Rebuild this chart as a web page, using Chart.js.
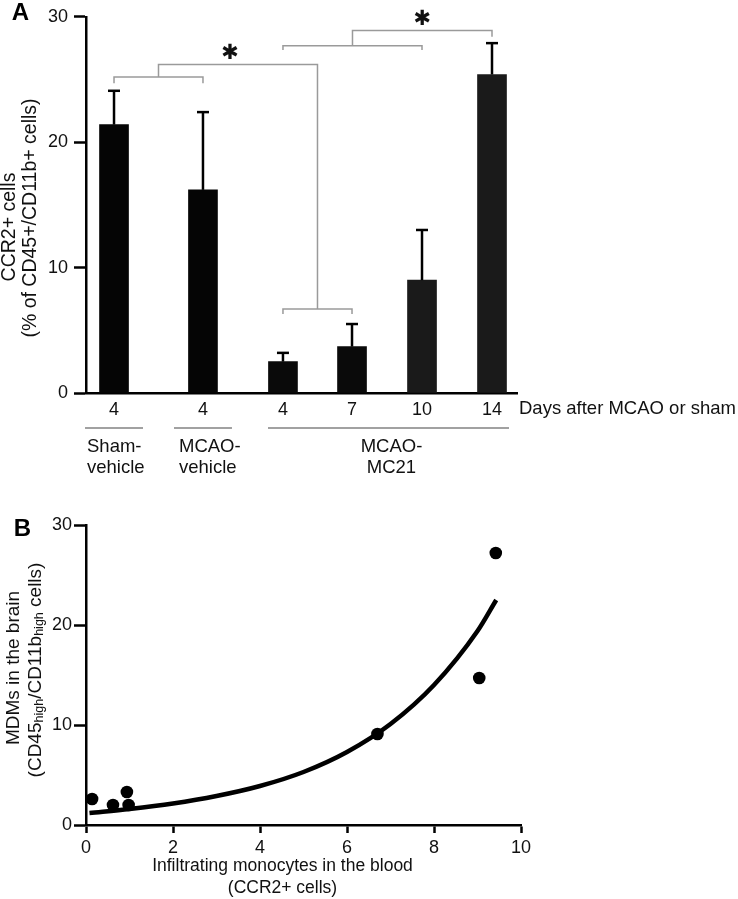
<!DOCTYPE html>
<html>
<head>
<meta charset="utf-8">
<script src="https://cdn.jsdelivr.net/npm/chart.js@4.4.0/dist/chart.umd.min.js"></script>
<style>
  html, body { margin: 0; padding: 0; background: #fff; }
  #wrap { position: relative; width: 738px; height: 899px; }
  canvas { position: absolute; left: 0; }
  #chartA { top: 0; }
  #chartB { top: 500px; }
</style>
</head>
<body>
<div id="wrap">
  <canvas id="chartA" width="738" height="500"></canvas>
  <canvas id="chartB" width="738" height="399"></canvas>
</div>
<script>
// Panel A: CCR2+ cells per group / day
const days = ['4', '4', '4', '7', '10', '14']
const ccr2Mean = [21.4, 16.2, 2.5, 3.7, 9.0, 25.4]
const ccr2Sem = [2.7, 6.2, 0.7, 1.8, 4.0, 2.5]
const yTicksA = [0, 10, 20, 30]

// Panel B: blood monocytes vs brain MDMs
const bloodCCR2 = [0.14, 0.62, 0.94, 0.98, 6.7, 9.04, 9.42]
const brainMDM = [2.6, 2.0, 3.3, 2.0, 9.1, 14.7, 27.2]
// fitted curve
const fitX = [0.08, 1, 2, 3, 4, 5, 6, 7, 8, 9, 9.43]
const fitY = [1.2, 1.6, 2.15, 2.9, 3.9, 5.3, 7.3, 10.1, 14.0, 19.4, 22.5]
const xTicksB = [0, 2, 4, 6, 8, 10]
const yTicksB = [0, 10, 20, 30]

// layout only: where each bar sits along panel A's x axis
const barSlot = [0.325, 1.357, 2.285, 3.086, 3.898, 4.71]
const barColors = ['#050505', '#050505', '#0a0a0a', '#0a0a0a', '#1a1a1a', '#1a1a1a']

const FONT = "'Liberation Sans', Arial, sans-serif"
Chart.defaults.font.family = FONT
Chart.defaults.font.size = 18
Chart.defaults.color = '#111'

function line(ctx, pts) {
  ctx.beginPath()
  ctx.moveTo(pts[0][0], pts[0][1])
  for (let k = 1; k < pts.length; k++) ctx.lineTo(pts[k][0], pts[k][1])
  ctx.stroke()
}

const annotateA = {
  id: 'annotateA',
  afterDatasetsDraw(chart) {
    const { ctx, scales: { x, y }, chartArea } = chart
    const bx = (i) => x.getPixelForValue(barSlot[i])
    ctx.save()

    // error bars (upper only)
    ctx.strokeStyle = '#000'
    ctx.lineWidth = 2.5
    ccr2Mean.forEach((m, i) => {
      const px = bx(i)
      const top = y.getPixelForValue(m + ccr2Sem[i])
      line(ctx, [[px, y.getPixelForValue(m)], [px, top]])
      line(ctx, [[px - 6, top], [px + 6, top]])
    })

    // significance brackets
    ctx.strokeStyle = '#9a9a9a'
    ctx.lineWidth = 1.5
    const Y = (v) => y.getPixelForValue(v)
    const m01 = (bx(0) + bx(1)) / 2
    const m23 = (bx(2) + bx(3)) / 2
    const m24 = (bx(2) + bx(4)) / 2
    line(ctx, [[bx(0), Y(24.7)], [bx(0), Y(25.2)], [bx(1), Y(25.2)], [bx(1), Y(24.7)]])
    line(ctx, [[bx(2), Y(6.3)], [bx(2), Y(6.7)], [bx(3), Y(6.7)], [bx(3), Y(6.3)]])
    line(ctx, [[m01, Y(25.2)], [m01, Y(26.2)], [m23, Y(26.2)], [m23, Y(6.7)]])
    line(ctx, [[bx(2), Y(27.35)], [bx(2), Y(27.7)], [bx(4), Y(27.7)], [bx(4), Y(27.35)]])
    line(ctx, [[m24, Y(27.7)], [m24, Y(28.9)], [bx(5), Y(28.9)], [bx(5), Y(28.4)]])

    ctx.fillStyle = '#111'
    ctx.textAlign = 'center'
    ctx.textBaseline = 'middle'
    ctx.font = "bold 21px 'DejaVu Sans'"
    ctx.fillText('\u2731', m01 + 0.45 * (m23 - m01), Y(27.1))
    ctx.fillText('\u2731', (m24 + bx(5)) / 2, Y(29.8))

    // x-axis caption
    ctx.font = '18.5px ' + FONT
    ctx.textAlign = 'left'
    ctx.fillText('Days after MCAO or sham', chartArea.right + 2, 409)

    // group lines + labels
    ctx.strokeStyle = '#444'
    ctx.lineWidth = 1.2
    line(ctx, [[bx(0) - 29, 428], [bx(0) + 29, 428]])
    line(ctx, [[bx(1) - 29, 428], [bx(1) + 29, 428]])
    line(ctx, [[bx(2) - 15, 428], [bx(5) + 17, 428]])
    ctx.fillText('Sham-', bx(0) - 27, 447)
    ctx.fillText('vehicle', bx(0) - 27, 468)
    ctx.fillText('MCAO-', bx(1) - 24, 447)
    ctx.fillText('vehicle', bx(1) - 24, 468)
    ctx.textAlign = 'center'
    const mc = (bx(2) - 15 + bx(5) + 17) / 2 + 3
    ctx.fillText('MCAO-', mc, 447)
    ctx.fillText('MC21', mc, 468)

    // y title
    ctx.font = '19.5px ' + FONT
    ctx.save()
    ctx.translate(10, 227)
    ctx.rotate(-Math.PI / 2)
    ctx.fillText('CCR2+ cells', 0, 0)
    ctx.restore()
    ctx.save()
    ctx.translate(31, 218)
    ctx.rotate(-Math.PI / 2)
    ctx.fillText('(% of CD45+/CD11b+ cells)', 0, 0)
    ctx.restore()

    // panel letter
    ctx.font = 'bold 24px ' + FONT
    ctx.fillStyle = '#000'
    ctx.fillText('A', 20.5, 13)
    ctx.restore()
  }
}

function drawRich(ctx, parts, cx, cy) {
  const big = '19px ' + FONT
  const small = '12.5px ' + FONT
  let w = 0
  parts.forEach((p) => { ctx.font = p[1] ? small : big; w += ctx.measureText(p[0]).width })
  let px = cx - w / 2
  ctx.textAlign = 'left'
  parts.forEach((p) => {
    ctx.font = p[1] ? small : big
    ctx.fillText(p[0], px, cy + (p[1] ? 4 : 0))
    px += ctx.measureText(p[0]).width
  })
}

const annotateB = {
  id: 'annotateB',
  afterDraw(chart) {
    const { ctx, chartArea } = chart
    const cx = (chartArea.left + chartArea.right) / 2
    ctx.save()
    ctx.fillStyle = '#111'
    ctx.textAlign = 'center'
    ctx.textBaseline = 'middle'
    ctx.font = '17.5px ' + FONT
    ctx.fillText('Infiltrating monocytes in the blood', cx - 21, 366)
    ctx.fillText('(CCR2+ cells)', cx - 21, 388)

    ctx.font = '19px ' + FONT
    ctx.save()
    ctx.translate(14, 168)
    ctx.rotate(-Math.PI / 2)
    ctx.fillText('MDMs in the brain', 0, 0)
    ctx.restore()
    ctx.save()
    ctx.translate(36, 170)
    ctx.rotate(-Math.PI / 2)
    drawRich(ctx, [['(CD45', false], ['high', true], ['/CD11b', false], ['high', true], [' cells)', false]], 0, 0)
    ctx.restore()

    ctx.font = 'bold 24px ' + FONT
    ctx.fillStyle = '#000'
    ctx.textAlign = 'center'
    ctx.fillText('B', 22.5, 29)
    ctx.restore()
  }
}

// Panel A - bar chart
new Chart(document.getElementById('chartA'), {
  type: 'bar',
  data: {
    datasets: [
      {
        data: ccr2Mean.map((v, i) => ({ x: barSlot[i], y: v })),
        backgroundColor: barColors,
        barThickness: 29,
      },
    ],
  },
  options: {
    responsive: false,
    animation: false,
    layout: { padding: { top: 11, right: 221, left: 0, bottom: 0 } },
    plugins: { legend: { display: false }, tooltip: { enabled: false } },
    scales: {
      x: {
        type: 'linear',
        min: 0,
        max: 5,
        offset: false,
        grid: { display: false, drawTicks: false },
        border: { display: true, color: '#000', width: 2.5 },
        ticks: { padding: 6, color: '#111', callback: (v, i) => days[i] ?? '' },
        afterBuildTicks: (s) => { s.ticks = barSlot.map((v) => ({ value: v })) },
        afterFit: (s) => { s.height = 107 },
      },
      y: {
        min: 0,
        max: 30,
        afterBuildTicks: (s) => { s.ticks = yTicksA.map((v) => ({ value: v })) },
        ticks: { padding: 6, color: '#111' },
        grid: { drawOnChartArea: false, tickLength: 12, tickWidth: 2.5, tickColor: '#000' },
        border: { color: '#000', width: 2.5 },
        afterFit: (s) => { s.width = 86 },
      },
    },
  },
  plugins: [annotateA],
})

// Panel B - scatter with fitted curve
new Chart(document.getElementById('chartB'), {
  type: 'scatter',
  data: {
    datasets: [
      {
        data: bloodCCR2.map((v, i) => ({ x: v, y: brainMDM[i] })),
        pointRadius: 6.3,
        backgroundColor: '#000',
        borderWidth: 0,
        order: 0,
      },
      {
        type: 'line',
        data: fitX.map((v, i) => ({ x: v, y: fitY[i] })),
        borderColor: '#000',
        borderWidth: 4.5,
        pointRadius: 0,
        cubicInterpolationMode: 'monotone',
        fill: false,
        order: 1,
      },
    ],
  },
  options: {
    responsive: false,
    animation: false,
    layout: { padding: { top: 25, right: 217, left: 0, bottom: 0 } },
    plugins: { legend: { display: false }, tooltip: { enabled: false } },
    scales: {
      x: {
        type: 'linear',
        min: 0,
        max: 10,
        afterBuildTicks: (s) => { s.ticks = xTicksB.map((v) => ({ value: v })) },
        ticks: { padding: 4, color: '#111' },
        grid: { drawOnChartArea: false, tickLength: 8, tickWidth: 2.5, tickColor: '#000' },
        border: { color: '#000', width: 2.5 },
        afterFit: (s) => { s.height = 74 },
      },
      y: {
        min: 0,
        max: 30,
        afterBuildTicks: (s) => { s.ticks = yTicksB.map((v) => ({ value: v })) },
        ticks: { padding: 2, color: '#111' },
        grid: { drawOnChartArea: false, tickLength: 12, tickWidth: 2.5, tickColor: '#000' },
        border: { color: '#000', width: 2.5 },
        afterFit: (s) => { s.width = 86 },
      },
    },
  },
  plugins: [annotateB],
})
</script>
</body>
</html>
